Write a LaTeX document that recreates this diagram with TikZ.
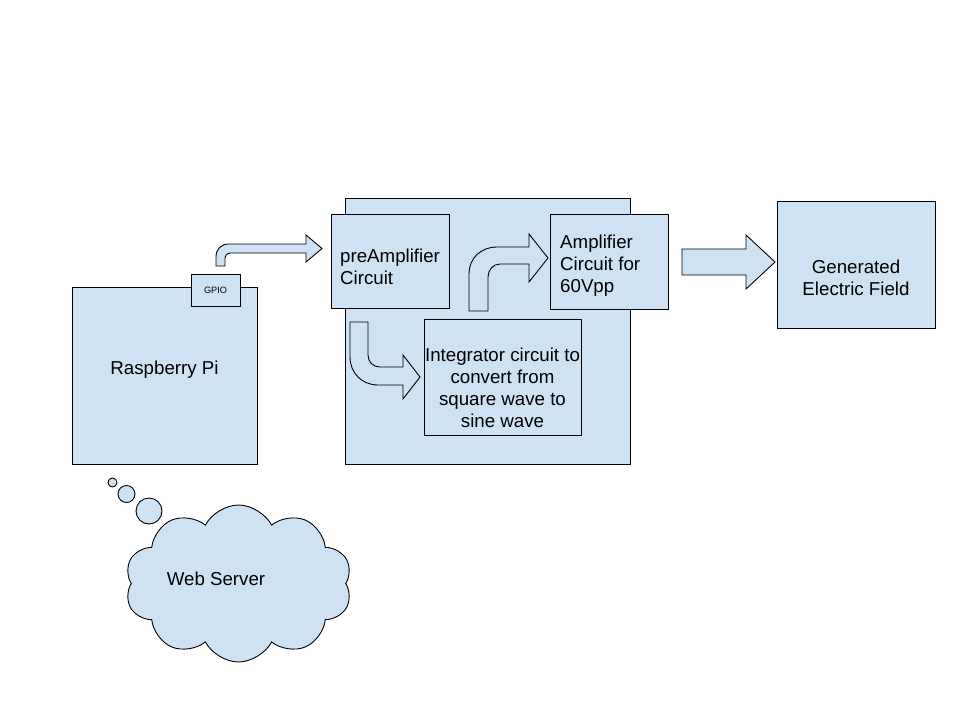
\documentclass[tikz,border=0pt]{standalone}
\usepackage{fontspec}
\setmainfont{Liberation Sans}
\usetikzlibrary{shapes.symbols,calc}
\definecolor{boxblue}{HTML}{CFE2F3}
\tikzset{
  box/.style={draw=black, fill=boxblue, line width=0.9pt, rectangle, inner sep=0pt},
  txt/.style={inner sep=0pt, font=\fontsize{18.7}{22}\selectfont},
  blockarrow/.style={draw=black, fill=boxblue, line width=0.9pt, line join=miter},
}
\begin{document}
\begin{tikzpicture}[x=1pt,y=-1pt]
\useasboundingbox[fill=white] (0,0) rectangle (960,720);

% Raspberry Pi
\node[box, minimum width=185, minimum height=177] (rpi) at (164.5,375.5) {};
\node[txt] (rpitxt) at (164.5,370) {Raspberry Pi};
\node[box, minimum width=49, minimum height=32, font=\fontsize{9.2}{11}\selectfont] (gpio) at (215.5,290) {GPIO};

% container
\node[box, minimum width=285, minimum height=266] (cont) at (487.5,331) {};

% preAmplifier
\node[box, minimum width=118, minimum height=94] (pre) at (390,261) {};
\node[txt, anchor=west, align=left] (pretxt) at (340,267) {preAmplifier\\Circuit};

% Amplifier
\node[box, minimum width=118, minimum height=95] (amp) at (609,261.5) {};
\node[txt, anchor=west, align=left] (amptxt) at (560,266) {Amplifier\\Circuit for\\60Vpp};

% Integrator
\node[box, minimum width=157, minimum height=116] (integ) at (502.5,377) {};
\node[txt, align=center] (integtxt) at (502.5,387.5) {Integrator circuit to\\convert from\\square wave to\\sine wave};

% Generated field
\node[box, minimum width=158, minimum height=127] (gen) at (856,264.5) {};
\node[txt, align=center] (gentxt) at (856,278) {Generated\\Electric Field};

% cloud
\node[cloud, draw=black, fill=boxblue, line width=0.9pt, cloud puffs=10, cloud puff arc=125, aspect=1.45, minimum width=227, minimum height=157, inner sep=0pt, shape border rotate=10] (web) at (238.5,583.5) {};
\node[txt] (webtxt) at (216,579) {Web Server};
\node[circle, draw=black, fill=boxblue, line width=0.9pt, minimum size=9, inner sep=0pt] (b1) at (112.5,482.5) {};
\node[circle, draw=black, fill=boxblue, line width=0.9pt, minimum size=17, inner sep=0pt] (b2) at (126.5,494) {};
\node[circle, draw=black, fill=boxblue, line width=0.9pt, minimum size=26, inner sep=0pt] (b3) at (149,511) {};

% GPIO -> preAmplifier
\draw[blockarrow] (216,266) -- (216,257) .. controls (216,249) and (221,244) .. (229,244)
  -- (306,244) -- (306,235) -- (322,248.5) -- (306,262) -- (306,253) -- (230,253)
  .. controls (227,253) and (225,255) .. (225,258) -- (225,266) -- cycle;

% preAmplifier -> Amplifier
\draw[blockarrow] (469,311) -- (469,274) .. controls (469,258) and (481,247) .. (497,247)
  -- (529,247) -- (529,234) -- (548,258) -- (529,282) -- (529,264) -- (500,264)
  .. controls (493,264) and (488,270) .. (488,277) -- (488,311) -- cycle;

% preAmplifier -> Integrator
\draw[blockarrow] (350,322) -- (350,357) .. controls (350,373) and (362,385) .. (378,385)
  -- (403,385) -- (403,399) -- (420,377) -- (403,355) -- (403,367) -- (380,367)
  .. controls (373,367) and (368,362) .. (368,355) -- (368,322) -- cycle;

% Amplifier -> Generated field
\draw[blockarrow] (682,249) -- (746,249) -- (746,235) -- (775,262) -- (746,289)
  -- (746,275) -- (682,275) -- cycle;
\end{tikzpicture}
\end{document}
